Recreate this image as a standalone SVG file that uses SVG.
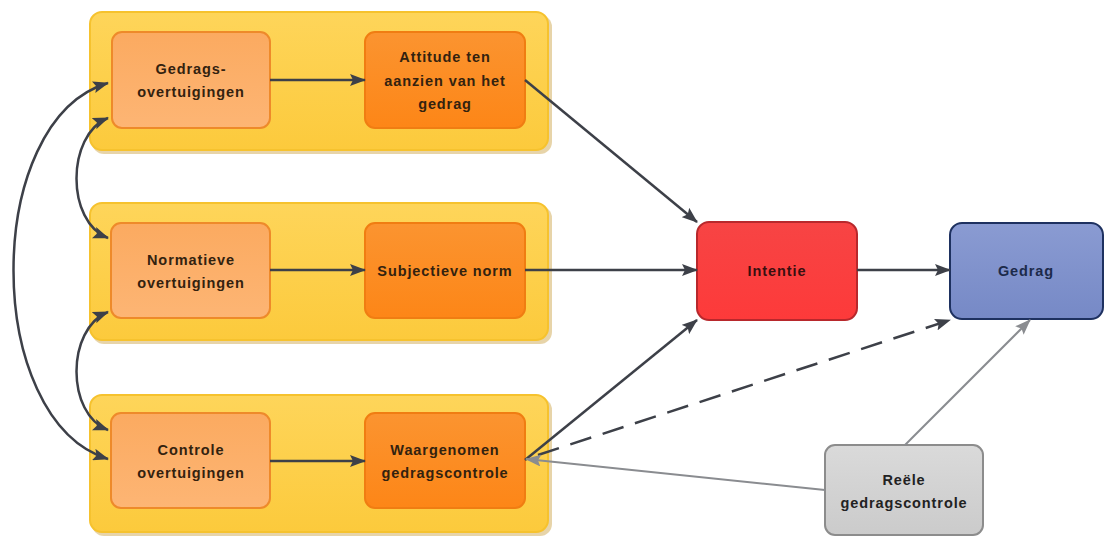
<svg xmlns="http://www.w3.org/2000/svg" width="1105" height="538" viewBox="0 0 1105 538">
<defs>
<linearGradient id="gYel" x1="0" y1="0" x2="0" y2="1"><stop offset="0" stop-color="#fed55a"/><stop offset="1" stop-color="#fcca3c"/></linearGradient>
<linearGradient id="gLight" x1="0" y1="0" x2="0" y2="1"><stop offset="0" stop-color="#fbaa60"/><stop offset="1" stop-color="#fdb574"/></linearGradient>
<linearGradient id="gDark" x1="0" y1="0" x2="0" y2="1"><stop offset="0" stop-color="#fb9430"/><stop offset="1" stop-color="#fd8617"/></linearGradient>
<linearGradient id="gRed" x1="0" y1="0" x2="0" y2="1"><stop offset="0" stop-color="#f74444"/><stop offset="1" stop-color="#fd3a3a"/></linearGradient>
<linearGradient id="gBlue" x1="0" y1="0" x2="0" y2="1"><stop offset="0" stop-color="#8a9bd2"/><stop offset="1" stop-color="#7689c6"/></linearGradient>
<linearGradient id="gGray" x1="0" y1="0" x2="0" y2="1"><stop offset="0" stop-color="#dadada"/><stop offset="1" stop-color="#cbcbcb"/></linearGradient>
<marker id="ah" viewBox="0 0 16 12" refX="15" refY="6" markerWidth="16" markerHeight="12" markerUnits="userSpaceOnUse" orient="auto-start-reverse"><path d="M0,0 L16,6 L0,12 L3,6 Z" fill="#3d4048"/></marker>
<marker id="ahg" viewBox="0 0 16 12" refX="15" refY="6" markerWidth="16" markerHeight="12" markerUnits="userSpaceOnUse" orient="auto-start-reverse"><path d="M0,0 L16,6 L0,12 L3,6 Z" fill="#8a8c90"/></marker>
<style>
.grp{fill:url(#gYel);stroke:#f6c22e;stroke-width:2}
.shadow{fill:#c9a040;opacity:0.45}
.light{fill:url(#gLight);stroke:#ee8a2a;stroke-width:2}
.dark{fill:url(#gDark);stroke:#f07d12;stroke-width:2}
.red{fill:url(#gRed);stroke:#b8282c;stroke-width:2}
.blue{fill:url(#gBlue);stroke:#1e3160;stroke-width:2}
.gray{fill:url(#gGray);stroke:#8c8c8c;stroke-width:2}
text{font-family:"Liberation Sans",Arial,sans-serif;font-weight:bold;font-size:14.5px;letter-spacing:0.9px;text-anchor:middle;fill:#33220f}
.tb{fill:#1c2a4a}
.tg{fill:#222}
.tr{fill:#3a1010}
.c{fill:none;stroke:#3d4048;stroke-width:2.5}
.cg{fill:none;stroke:#8a8c90;stroke-width:2}
</style>
</defs>

<g id="group-gedrag">
<rect class="shadow" x="92" y="15" width="460" height="139" rx="12"/>
<rect class="grp" x="90" y="12" width="458" height="138" rx="12"/>
</g>
<g id="group-norm">
<rect class="shadow" x="92" y="206" width="460" height="138" rx="12"/>
<rect class="grp" x="90" y="203" width="458" height="137" rx="12"/>
</g>
<g id="group-controle">
<rect class="shadow" x="92" y="398" width="460" height="138" rx="12"/>
<rect class="grp" x="90" y="395" width="458" height="137" rx="12"/>
</g>

<g id="node-gedragsovertuigingen">
<rect class="light" x="112" y="32" width="158" height="96" rx="10"/>
<text x="191" y="74">Gedrags-</text>
<text x="191" y="97">overtuigingen</text>
</g>
<g id="node-attitude">
<rect class="dark" x="365" y="32" width="160" height="96" rx="10"/>
<text x="445" y="62">Attitude ten</text>
<text x="445" y="86">aanzien van het</text>
<text x="445" y="109">gedrag</text>
</g>
<g id="node-normatieve">
<rect class="light" x="111" y="223" width="159" height="95" rx="10"/>
<text x="191" y="265">Normatieve</text>
<text x="191" y="288">overtuigingen</text>
</g>
<g id="node-subjectieve">
<rect class="dark" x="365" y="223" width="160" height="95" rx="10"/>
<text x="445" y="276">Subjectieve norm</text>
</g>
<g id="node-controle">
<rect class="light" x="111" y="413" width="159" height="95" rx="10"/>
<text x="191" y="455">Controle</text>
<text x="191" y="478">overtuigingen</text>
</g>
<g id="node-waargenomen">
<rect class="dark" x="365" y="413" width="160" height="95" rx="10"/>
<text x="445" y="455">Waargenomen</text>
<text x="445" y="478">gedragscontrole</text>
</g>
<g id="node-intentie">
<rect class="red" x="697" y="222" width="160" height="98" rx="12"/>
<text class="tr" x="777" y="276">Intentie</text>
</g>
<g id="node-gedrag">
<rect class="blue" x="950" y="223" width="153" height="96" rx="12"/>
<text class="tb" x="1026" y="276">Gedrag</text>
</g>
<g id="node-reele">
<rect class="gray" x="825" y="445" width="158" height="90" rx="10"/>
<text class="tg" x="904" y="485">Reële</text>
<text class="tg" x="904" y="508">gedragscontrole</text>
</g>

<g id="connectors">
<path class="c" d="M270,80 L365,80" marker-end="url(#ah)"/>
<path class="c" d="M270,270 L365,270" marker-end="url(#ah)"/>
<path class="c" d="M270,461 L365,461" marker-end="url(#ah)"/>
<path class="c" d="M525,80 L697,222" marker-end="url(#ah)"/>
<path class="c" d="M525,270 L697,270" marker-end="url(#ah)"/>
<path class="c" d="M525,460 L697,320" marker-end="url(#ah)"/>
<path class="c" d="M857,270 L950,270" marker-end="url(#ah)"/>
<path class="c" d="M538,455 L950,320" stroke-dasharray="22 12" marker-end="url(#ah)"/>
<path class="cg" d="M905,445 L1030,320" marker-end="url(#ahg)"/>
<path class="cg" d="M825,490 L526,459" marker-end="url(#ahg)"/>
<path class="c" d="M108,118 C66,135 66,222 108,238" marker-start="url(#ah)" marker-end="url(#ah)"/>
<path class="c" d="M108,312 C66,329 66,414 108,430" marker-start="url(#ah)" marker-end="url(#ah)"/>
<path class="c" d="M108,83 C-18,120 -18,420 108,459" marker-start="url(#ah)" marker-end="url(#ah)"/>
</g>
</svg>
